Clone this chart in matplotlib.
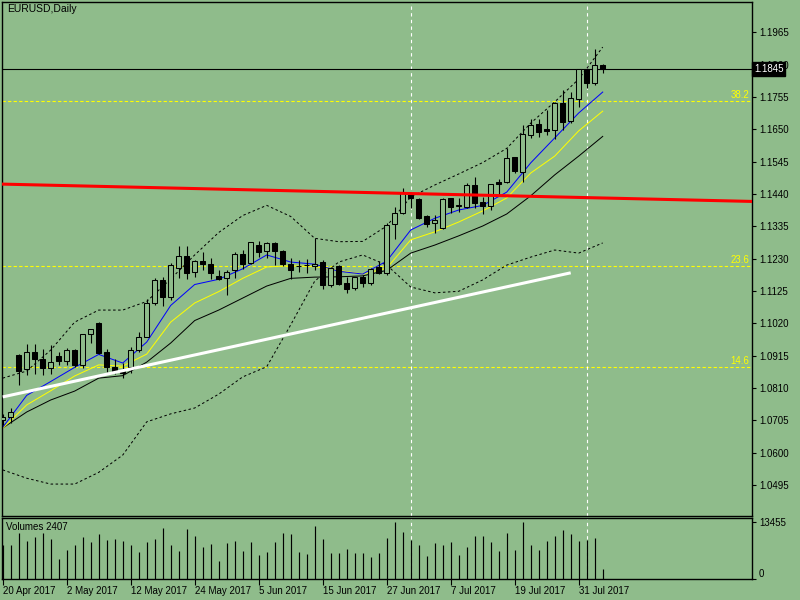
import numpy as np
import matplotlib.pyplot as plt
import matplotlib.transforms as mtransforms

plt.rcParams['font.family'] = ['Liberation Sans', 'DejaVu Sans']

bg = '#8FBC8B'

# daily candles, 20 Apr 2017 .. 3 Aug 2017
opens = [1.0706, 1.0717, 1.0916, 1.0871, 1.0926, 1.0903, 1.0874, 1.0914, 1.0899, 1.0932,
         1.0885, 1.0984, 1.1020, 1.0926, 1.0879, 1.0868, 1.0879, 1.0933, 1.0977, 1.1085,
         1.1161, 1.1105, 1.1199, 1.1239, 1.1188, 1.1222, 1.1212, 1.1175, 1.1166, 1.1193,
         1.1244, 1.1215, 1.1273, 1.1256, 1.1280, 1.1256, 1.1213, 1.1206, 1.1209, 1.1206,
         1.1220, 1.1144, 1.1206, 1.1150, 1.1136, 1.1171, 1.1152, 1.1203, 1.1182, 1.1342,
         1.1377, 1.1442, 1.1423, 1.1369, 1.1347, 1.1330, 1.1426, 1.1401, 1.1399, 1.1469,
         1.1413, 1.1401, 1.1478, 1.1480, 1.1559, 1.1512, 1.1632, 1.1666, 1.1650, 1.1648,
         1.1736, 1.1677, 1.1748, 1.1845, 1.1799, 1.1859]
highs = [1.0726, 1.0744, 1.0920, 1.0953, 1.0953, 1.0937, 1.0949, 1.0927, 1.0939, 1.0936,
         1.0985, 1.1003, 1.1023, 1.0937, 1.0903, 1.0891, 1.0944, 1.0993, 1.1099, 1.1166,
         1.1171, 1.1215, 1.1271, 1.1271, 1.1226, 1.1252, 1.1231, 1.1193, 1.1193, 1.1253,
         1.1258, 1.1285, 1.1288, 1.1285, 1.1285, 1.1258, 1.1231, 1.1226, 1.1228, 1.1296,
         1.1226, 1.1204, 1.1209, 1.1170, 1.1172, 1.1177, 1.1199, 1.1222, 1.1345, 1.1399,
         1.1459, 1.1444, 1.1426, 1.1371, 1.1372, 1.1426, 1.1428, 1.1426, 1.1477, 1.1494,
         1.1431, 1.1474, 1.1488, 1.1588, 1.1561, 1.1664, 1.1683, 1.1684, 1.1713, 1.1740,
         1.1777, 1.1772, 1.1847, 1.1848, 1.1910, 1.1861]
lows = [1.0690, 1.0695, 1.0820, 1.0852, 1.0855, 1.0852, 1.0855, 1.0885, 1.0885, 1.0879,
        1.0874, 1.0955, 1.0921, 1.0863, 1.0855, 1.0842, 1.0858, 1.0928, 1.0975, 1.1080,
        1.1076, 1.1096, 1.1166, 1.1163, 1.1170, 1.1193, 1.1163, 1.1161, 1.1112, 1.1166,
        1.1196, 1.1213, 1.1236, 1.1231, 1.1209, 1.1206, 1.1163, 1.1188, 1.1184, 1.1193,
        1.1130, 1.1139, 1.1144, 1.1118, 1.1128, 1.1139, 1.1144, 1.1180, 1.1177, 1.1293,
        1.1375, 1.1394, 1.1358, 1.1334, 1.1312, 1.1327, 1.1379, 1.1383, 1.1394, 1.1394,
        1.1375, 1.1388, 1.1437, 1.1475, 1.1509, 1.1480, 1.1621, 1.1626, 1.1631, 1.1618,
        1.1647, 1.1672, 1.1723, 1.1783, 1.1794, 1.1832]
closes = [1.0716, 1.0731, 1.0866, 1.0926, 1.0905, 1.0874, 1.0895, 1.0899, 1.0933, 1.0885,
          1.0984, 1.1001, 1.0923, 1.0879, 1.0866, 1.0859, 1.0933, 1.0977, 1.1085, 1.1161,
          1.1105, 1.1209, 1.1239, 1.1184, 1.1222, 1.1212, 1.1182, 1.1164, 1.1186, 1.1244,
          1.1213, 1.1283, 1.1253, 1.1280, 1.1256, 1.1213, 1.1193, 1.1205, 1.1208, 1.1213,
          1.1144, 1.1199, 1.1148, 1.1132, 1.1170, 1.1152, 1.1195, 1.1184, 1.1339, 1.1379,
          1.1442, 1.1426, 1.1361, 1.1342, 1.1356, 1.1424, 1.1399, 1.1404, 1.1469, 1.1410,
          1.1401, 1.1472, 1.1472, 1.1556, 1.1516, 1.1634, 1.1663, 1.1642, 1.1644, 1.1736,
          1.1675, 1.1751, 1.1845, 1.1801, 1.1859, 1.1845]
volumes = [8000, 7887, 10922, 8843, 9799, 10922, 9321, 4708, 6931, 7887,
           9799, 8604, 10516, 9082, 9321, 8843, 7887, 6286, 8604, 9321,
           11950, 7887, 6692, 11711, 10038, 7409, 8126, 4302, 8365, 8843,
           6692, 8604, 5736, 6453, 8604, 10755, 10516, 6453, 5975, 12428,
           9321, 6214, 6214, 7170, 6214, 6214, 5258, 6214, 9560, 13384,
           10994, 9082, 7887, 5497, 8365, 7887, 8604, 5736, 7409, 10038,
           10038, 8604, 6692, 10755, 6931, 13455, 7887, 6931, 8843, 10038,
           11472, 10516, 8843, 9082, 9560, 2407]

date_ticks = [0, 8, 16, 24, 32, 40, 48, 56, 64, 72]
date_labels = ['20 Apr 2017', '2 May 2017', '12 May 2017', '24 May 2017', '5 Jun 2017',
               '15 Jun 2017', '27 Jun 2017', '7 Jul 2017', '19 Jul 2017', '31 Jul 2017']

# indicator lines read every 3rd bar
line_idx = list(range(0, 76, 3))
ma_blue = [1.0682, 1.0786, 1.0831, 1.0877, 1.0919, 1.0891, 1.0959, 1.1078, 1.1146, 1.1163,
           1.1197, 1.1242, 1.1219, 1.1212, 1.1189, 1.1180, 1.1222, 1.1323, 1.1361, 1.1388,
           1.1403, 1.1446, 1.1541, 1.1622, 1.1703, 1.1771]
ma_yellow = [1.0679, 1.0755, 1.0801, 1.0849, 1.0885, 1.0881, 1.0920, 1.1024, 1.1086, 1.1123,
             1.1166, 1.1203, 1.1207, 1.1204, 1.1192, 1.1180, 1.1199, 1.1291, 1.1317, 1.1349,
             1.1385, 1.1427, 1.1508, 1.1563, 1.1645, 1.1709]
ma_black = [1.0680, 1.0732, 1.0771, 1.0800, 1.0842, 1.0850, 1.0894, 1.0956, 1.1029, 1.1063,
            1.1102, 1.1141, 1.1166, 1.1170, 1.1171, 1.1174, 1.1192, 1.1248, 1.1274, 1.1304,
            1.1336, 1.1375, 1.1434, 1.1502, 1.1563, 1.1627]
bb_upper = [1.0842, 1.0865, 1.0933, 1.1024, 1.1063, 1.1063, 1.1091, 1.1164, 1.1242, 1.1315,
            1.1370, 1.1403, 1.1367, 1.1296, 1.1285, 1.1286, 1.1336, 1.1430, 1.1469, 1.1505,
            1.1542, 1.1588, 1.1670, 1.1739, 1.1813, 1.1917]
bb_lower = [1.0544, 1.0517, 1.0498, 1.0498, 1.0536, 1.0592, 1.0700, 1.0726, 1.0745, 1.0790,
            1.0846, 1.0879, 1.1015, 1.1157, 1.1219, 1.1242, 1.1209, 1.1138, 1.1119, 1.1124,
            1.1161, 1.1209, 1.1235, 1.1258, 1.1248, 1.1281]

fib_levels = [1.1742, 1.1206, 1.0878]
fib_names = ['38.2', '23.6', '14.6']
red_x = [0, 75]
red_y = [1.1472, 1.1427]
white_x = [0, 71]
white_y = [1.0781, 1.1184]
separators = [51, 73]
price_ticks = [1.0495 + 0.0105 * k for k in range(15)]

fig = plt.figure(figsize=(8, 6), dpi=100, facecolor=bg)
ax = fig.add_axes([0.0025, 0.14, 0.9375, 514 / 600])
axv = fig.add_axes([0.0025, 0.035, 0.9375, 61 / 600])
for a in (ax, axv):
    a.set_facecolor(bg)
    a.set_xlim(-0.0875, 93.66)
    for s in a.spines.values():
        s.set_color('black')
        s.set_linewidth(1)

x = np.arange(len(opens))
o = np.array(opens)
c = np.array(closes)

# candles
ax.vlines(x, lows, highs, color='black', lw=0.8, zorder=3)
bear = c < o
ax.bar(x, np.abs(c - o), bottom=np.minimum(o, c), width=0.58,
       color=np.where(bear, 'black', bg), edgecolor='black', linewidth=0.75, zorder=4)

# indicators
ax.plot(line_idx, bb_upper, color='black', lw=0.72, ls=(0, (2.5, 2.5)), zorder=2)
ax.plot(line_idx, bb_lower, color='black', lw=0.72, ls=(0, (2.5, 2.5)), zorder=2)
ax.plot(line_idx, ma_black, color='black', lw=0.72, zorder=2)
ax.plot(line_idx, ma_yellow, color='#FFFF00', lw=0.72, zorder=2)
ax.plot(line_idx, ma_blue, color='#0000FF', lw=0.72, zorder=2)

# levels and trend lines
trans = mtransforms.blended_transform_factory(ax.transAxes, ax.transData)
for lev, name in zip(fib_levels, fib_names):
    ax.axhline(lev, color='#FFFF00', lw=0.8, ls=(0, (3, 2)), zorder=1)
    ax.annotate(name, (1, lev), xycoords=trans, xytext=(-2, 1), textcoords='offset points',
                ha='right', va='bottom', color='#FFFF00', fontsize=7)
for sx in separators:
    ax.axvline(sx, color='white', lw=0.8, ls=(0, (3, 3)), zorder=1)
    axv.axvline(sx, color='white', lw=0.8, ls=(0, (3, 3)), zorder=1)
ax.axline((red_x[0], red_y[0]), (red_x[1], red_y[1]), color='#FF0000', lw=2.2, zorder=5)
ax.plot(white_x, white_y, color='white', lw=2.2, solid_capstyle='butt', zorder=5)
ax.axhline(closes[-1], color='black', lw=0.8, zorder=1)

ax.set_ylim(1.03943, 1.20634)
ax.yaxis.tick_right()
ax.set_yticks(price_ticks)
ax.set_yticklabels(['%.4f' % p for p in price_ticks])
ax.tick_params(axis='y', direction='out', length=3, pad=2, labelsize=7, colors='black')
ax.set_xticks([])
ax.text(1.0 + 2 / 750, closes[-1], '%.4f' % closes[-1], transform=trans, ha='left', va='center',
        color='white', fontsize=7, zorder=10, clip_on=False,
        bbox=dict(boxstyle='square,pad=0.2', fc='black', ec='black'))
fig.text(7 / 800, 1 - 9 / 600, 'EURUSD,Daily', va='center', ha='left', fontsize=7.5)

# volumes
axv.vlines(x, 0, volumes, color='black', lw=0.85, zorder=3)
axv.set_ylim(0, 14340)
axv.yaxis.tick_right()
axv.set_yticks([0, 13455])
axv.set_yticklabels(['0', '13455'])
axv.get_yticklabels()[0].set_va('bottom')
axv.tick_params(axis='y', direction='out', length=3, pad=2, labelsize=7)
axv.set_xticks(date_ticks)
axv.set_xticklabels(date_labels)
for lbl in axv.get_xticklabels():
    lbl.set_ha('left')
axv.tick_params(axis='x', direction='out', length=4, pad=1, labelsize=7)
fig.text(6 / 800, 1 - 527 / 600, 'Volumes 2407', va='center', ha='left', fontsize=7)

fig.savefig('out.png', dpi=100, facecolor=bg)
